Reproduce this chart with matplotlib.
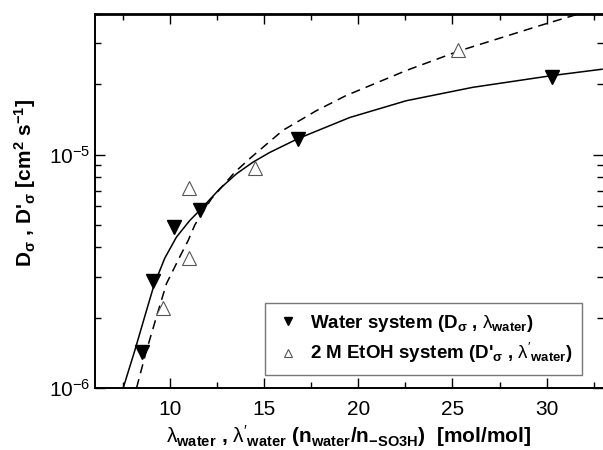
import matplotlib
matplotlib.use("Agg")
import matplotlib.pyplot as plt
from matplotlib.ticker import LogLocator, MultipleLocator, NullFormatter

plt.rcParams['font.family'] = ['Liberation Sans', 'DejaVu Sans']
plt.rcParams['mathtext.fontset'] = 'custom'
plt.rcParams['mathtext.rm'] = 'Liberation Sans'
plt.rcParams['mathtext.bf'] = 'Liberation Sans:bold'
plt.rcParams['mathtext.it'] = 'Liberation Sans:italic'

# measured points, water system
water_lam = [8.48, 9.11, 10.19, 11.57, 16.77, 30.3]
water_D = [1.43e-6, 2.87e-6, 4.87e-6, 5.76e-6, 1.16e-5, 2.15e-5]

# measured points, 2 M EtOH system
etoh_lam = [9.62, 10.99, 10.99, 14.52, 25.3]
etoh_D = [2.2e-6, 3.59e-6, 7.16e-6, 8.8e-6, 2.81e-5]

# fitted curves
fit_water_lam = [7.50, 8.12, 8.74, 9.15, 9.71, 10.33, 11.04, 11.57, 12.63, 13.52,
                 14.40, 15.28, 16.79, 19.53, 22.54, 26.07, 30.31, 32.95]
fit_water_D = [1.0e-6, 1.45e-6, 2.15e-6, 2.78e-6, 3.60e-6, 4.43e-6, 5.22e-6, 5.77e-6,
               7.13e-6, 8.27e-6, 9.28e-6, 1.02e-5, 1.17e-5, 1.44e-5, 1.70e-5, 1.94e-5,
               2.18e-5, 2.32e-5]

fit_etoh_lam = [8.21, 8.74, 9.27, 9.80, 10.51, 10.95, 11.31, 12.19, 13.43, 14.22,
                15.02, 15.99, 17.76, 19.35, 22.54, 25.36, 29.61, 31.38, 33.0]
fit_etoh_D = [1.0e-6, 1.45e-6, 2.02e-6, 2.80e-6, 3.65e-6, 4.28e-6, 5.0e-6, 6.47e-6,
              8.4e-6, 9.6e-6, 1.09e-5, 1.27e-5, 1.54e-5, 1.79e-5, 2.29e-5, 2.78e-5,
              3.56e-5, 3.93e-5, 4.3e-5]

fig = plt.figure(figsize=(6.03, 4.5), dpi=100)
ax = fig.add_axes([0.1575, 0.1378, 0.8425, 0.8311])

ax.plot(fit_water_lam, fit_water_D, '-', color='black', lw=1.1)
ax.plot(fit_etoh_lam, fit_etoh_D, color='black', lw=1.1, dashes=(6, 4))

ax.plot(water_lam, water_D, 'v', color='black', ms=10, ls='none',
        label=r'Water system (D$_{\mathbf{\sigma}}$ , $\mathrm{\lambda}_{\mathbf{water}}$)')
ax.plot(etoh_lam, etoh_D, '^', mfc='white', mec='#555555', mew=0.8, ms=10, ls='none',
        label=r"2 M EtOH system (D'$_{\mathbf{\sigma}}$ , $\mathrm{\lambda}'_{\mathbf{water}}$)")

ax.set_yscale('log')
ax.set_xlim(6, 33)
ax.set_ylim(1e-6, 4e-5)

ax.xaxis.set_major_locator(MultipleLocator(5))
ax.xaxis.set_minor_locator(MultipleLocator(2.5))
ax.yaxis.set_major_locator(LogLocator(base=10))
ax.yaxis.set_minor_locator(LogLocator(base=10, subs=range(2, 10)))
ax.yaxis.set_minor_formatter(NullFormatter())

ax.tick_params(which='both', direction='in', top=True, right=True, labelsize=15,
               width=1.0)
ax.tick_params(which='major', length=7)
ax.tick_params(which='minor', length=4)
ax.tick_params(axis='x', pad=9)

for s in ['left', 'bottom', 'top']:
    ax.spines[s].set_linewidth(1.4)
ax.spines['top'].set_linewidth(2)
ax.spines['right'].set_visible(False)

ax.set_xlabel(r"$\mathrm{\lambda}_{\mathbf{water}}$ , $\mathrm{\lambda}'_{\mathbf{water}}$ "
              r"($\mathbf{n_{water}/n_{-SO3H}}$)  [mol/mol]",
              fontsize=15, fontweight='bold')
ax.set_ylabel(r"D$_{\mathbf{\sigma}}$ , D'$_{\mathbf{\sigma}}$ [cm$^{\mathbf{2}}$ s$^{\mathbf{-1}}$]",
              fontsize=15, fontweight='bold')
ax.xaxis.set_label_coords(0.5, -0.094)
ax.yaxis.set_label_coords(-0.112, 0.55)

leg = ax.legend(loc='lower right', bbox_to_anchor=(0.977, 0.011), fancybox=False,
                framealpha=1, edgecolor='#777777', markerscale=0.6,
                prop={'weight': 'bold', 'size': 13.5}, handletextpad=0.4,
                borderpad=0.5, labelspacing=0.4, handlelength=1.5)
leg.get_frame().set_linewidth(1.0)

fig.savefig('out.png', dpi=100)
